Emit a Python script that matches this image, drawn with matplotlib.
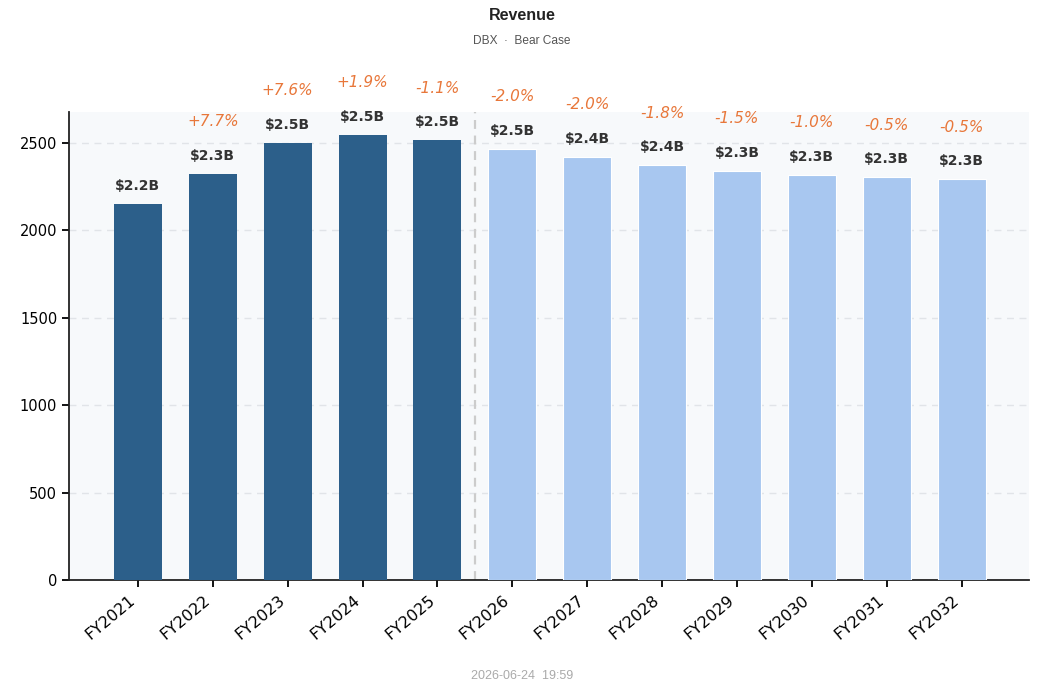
import matplotlib
matplotlib.use("Agg")
import matplotlib.pyplot as plt
import numpy as np

years = ["FY2021", "FY2022", "FY2023", "FY2024", "FY2025", "FY2026",
         "FY2027", "FY2028", "FY2029", "FY2030", "FY2031", "FY2032"]
revenue = [2151, 2323, 2500, 2546, 2517, 2466, 2420, 2374, 2340, 2317, 2305, 2294]
value_labels = ["$2.2B", "$2.3B", "$2.5B", "$2.5B", "$2.5B", "$2.5B",
                "$2.4B", "$2.4B", "$2.3B", "$2.3B", "$2.3B", "$2.3B"]
growth_labels = ["", "+7.7%", "+7.6%", "+1.9%", "-1.1%", "-2.0%",
                 "-2.0%", "-1.8%", "-1.5%", "-1.0%", "-0.5%", "-0.5%"]
n_actual = 5

dark = "#2c5f8a"
light = "#a8c7f0"
orange = "#e8773a"

fig = plt.figure(figsize=(10.44, 6.9), dpi=100)
ax = fig.add_axes([69 / 1044, 1 - 580 / 690, 960 / 1044, 468 / 690])
ax.set_facecolor("#f7f9fb")

x = np.arange(len(years))
colors = [dark if i < n_actual else light for i in range(len(years))]
edges = ["none" if i < n_actual else "white" for i in range(len(years))]
ax.bar(x, revenue, width=0.64, color=colors, edgecolor=edges, linewidth=0.8, zorder=3)

ax.set_xlim(-0.92, 11.9)
ax.set_ylim(0, 2677)
ax.set_yticks([0, 500, 1000, 1500, 2000, 2500])
ax.yaxis.grid(True, linestyle=(0, (5, 4)), color="#e1e4e8", linewidth=1.0, zorder=0)
ax.axvline(n_actual - 0.5, color="#cccccc", linestyle=(0, (4, 3)), linewidth=1.6, zorder=2)

for s in ["top", "right"]:
    ax.spines[s].set_visible(False)
for s in ["left", "bottom"]:
    ax.spines[s].set_color("#222222")
    ax.spines[s].set_linewidth(1.3)

ax.set_xticks(x)
ax.set_xticklabels(years, rotation=40, ha="right", fontsize=11.5)
ax.tick_params(axis="x", length=5, width=1.3, pad=4)
ax.tick_params(axis="y", length=5, width=1.3, labelsize=10.5)

for i, v in enumerate(revenue):
    ax.annotate(value_labels[i], (x[i], v), xytext=(0, 8), textcoords="offset points",
                ha="center", va="bottom", fontsize=10, fontweight="bold",
                color="#333333", annotation_clip=False)
    if growth_labels[i]:
        ax.annotate(growth_labels[i], (x[i], v), xytext=(0, 32), textcoords="offset points",
                    ha="center", va="bottom", fontsize=11, style="italic",
                    color=orange, annotation_clip=False)

fig.text(0.5, 1 - 16 / 690, "Revenue", ha="center", va="center",
         fontsize=11.5, fontweight="bold", color="#222222", family="Liberation Sans")
fig.text(0.5, 1 - 41 / 690, "DBX  ·  Bear Case", ha="center", va="center",
         fontsize=8.6, color="#555555", family="Liberation Sans")
fig.text(0.5, 1 - 676 / 690, "2026-06-24  19:59", ha="center", va="center",
         fontsize=9, color="#aaaaaa", family="Liberation Sans")

fig.savefig("out.png", dpi=100)
